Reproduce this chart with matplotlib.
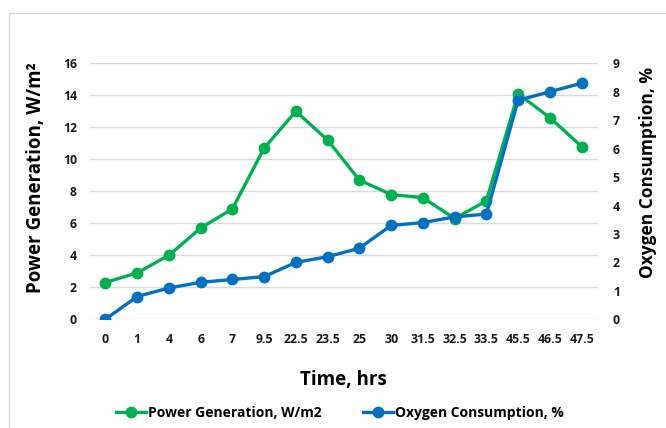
import matplotlib.pyplot as plt
from matplotlib.lines import Line2D
from matplotlib.patches import Rectangle
import numpy as np

plt.rcParams['font.family'] = ['Open Sans', 'DejaVu Sans']
plt.rcParams['font.weight'] = 'bold'

# Datos
tiempos = ['0', '1', '4', '6', '7', '9.5', '22.5', '23.5', '25', '30', '31.5',
           '32.5', '33.5', '45.5', '46.5', '47.5']
potencia = [2.3, 2.9, 4.0, 5.7, 6.9, 10.7, 13.0, 11.2, 8.7, 7.8, 7.6, 6.3, 7.4,
            14.1, 12.6, 10.8]
oxigeno = [0.0, 0.8, 1.1, 1.3, 1.4, 1.5, 2.0, 2.2, 2.5, 3.3, 3.4, 3.6, 3.7,
           7.7, 8.0, 8.3]

verde = '#00B050'
azul = '#0070C0'

fig = plt.figure(figsize=(6.66, 4.28), dpi=100)
# marco gris del area del grafico
fig.patches.append(Rectangle((9 / 666, -0.1), 1.1, 1 - 13 / 428 + 0.1,
                             transform=fig.transFigure, fill=False,
                             edgecolor='#D9D9D9', linewidth=1))

ax = fig.add_axes([89.5 / 666, 1 - 319.3 / 428, 508 / 666, 256 / 428])
ax2 = ax.twinx()

x = np.arange(len(tiempos))
ax.plot(x, potencia, color=verde, linewidth=2.4, marker='o', markersize=7.5,
        label='Power Generation, W/m2')
ax2.plot(x, oxigeno, color=azul, linewidth=2.4, marker='o', markersize=7.5,
         label='Oxygen Consumption, %')

ax.set_xlim(-0.5, len(tiempos) - 0.5)
ax.set_ylim(0, 16)
ax.set_yticks(range(0, 17, 2))
ax2.set_ylim(0, 9)
ax2.set_yticks(range(0, 10))
ax.set_xticks(x)
ax.set_xticklabels(tiempos)

ax.grid(axis='y', color='#D9D9D9', linewidth=1)
ax.set_axisbelow(True)
for a in (ax, ax2):
    for s in a.spines.values():
        s.set_visible(False)
    a.tick_params(length=0, labelsize=8.8, labelcolor='#1a1a1a')
ax.tick_params(axis='y', pad=9)
ax.tick_params(axis='x', pad=10)
ax2.tick_params(axis='y', pad=11)

ax.set_ylabel('Power Generation, W/m²', fontsize=13.5, fontweight='bold', labelpad=12)
ax2.set_ylabel('Oxygen Consumption, %', fontsize=12.5, fontweight='bold', labelpad=14)
ax.yaxis.label.set_y(0.555)
ax2.yaxis.label.set_y(0.575)
ax.set_xlabel('Time, hrs', fontsize=13.5, fontweight='bold', labelpad=17)

handles = [Line2D([], [], color=verde, linewidth=2.4, marker='o', markersize=7.5),
           Line2D([], [], color=azul, linewidth=2.4, marker='o', markersize=7.5)]
fig.legend(handles, ['Power Generation, W/m2', 'Oxygen Consumption, %'],
           loc='center', bbox_to_anchor=(0.51, 1 - 413 / 428), ncol=2,
           frameon=False, fontsize=10, handlelength=2.2, handletextpad=0.1,
           columnspacing=3.0)

fig.savefig('out.png', dpi=100)
